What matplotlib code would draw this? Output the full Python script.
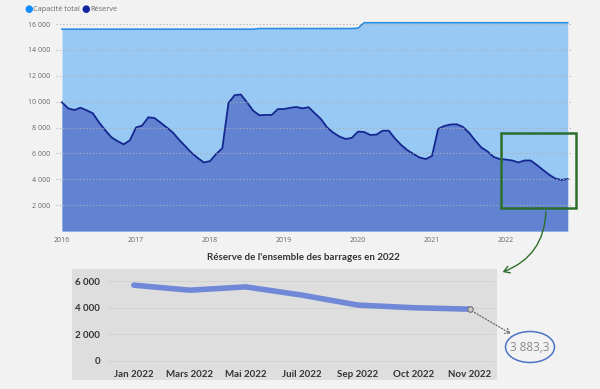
import matplotlib
matplotlib.use("Agg")
import matplotlib.pyplot as plt
from matplotlib.patches import Rectangle, Ellipse, FancyArrowPatch

W, H = 600, 389

# monthly reserve, Jan 2016 .. Nov 2022
reserve = [9950, 9480, 9350, 9530, 9330, 9100, 8400, 7800, 7250, 6950, 6700, 7000,
           8000, 8150, 8790, 8730, 8370, 8000, 7600, 7050, 6550, 6050, 5650, 5300,
           5400, 5950, 6400, 9900, 10500, 10550, 9950, 9300, 8950, 8970, 8970, 9420,
           9430, 9520, 9590, 9480, 9570, 9100, 8650, 8000, 7600, 7300, 7110, 7200,
           7680, 7650, 7420, 7450, 7750, 7750, 7150, 6650, 6250, 5950, 5680, 5560,
           5800, 7900, 8120, 8230, 8250, 8050, 7600, 7000, 6450, 6150, 5720, 5560,
           5520, 5450, 5300, 5450, 5450, 5100, 4720, 4350, 4050, 3950, 4020]
months = list(range(len(reserve)))

cap_months = [0, 31, 32, 47, 48, 49, 82]
cap_values = [15600, 15600, 15650, 15650, 15680, 16100, 16100]

year_labels = ["2016", "2017", "2018", "2019", "2020", "2021", "2022"]
year_ticks = [0, 12, 24, 36, 48, 60, 72]
top_yticks = [2000, 4000, 6000, 8000, 10000, 12000, 14000, 16000]

# zoom on 2022
months_2022 = ["Jan 2022", "Mars 2022", "Mai 2022", "Juil 2022", "Sep 2022", "Oct 2022", "Nov 2022"]
reserve_2022 = [5690, 5310, 5560, 4940, 4190, 3990, 3883.3]
bottom_yticks = [0, 2000, 4000, 6000]
last_label = "3 883,3"

bg = "#f2f2f2"
c_cap_line = "#2a8de6"
c_cap_fill = "#98c8f4"
c_res_line = "#14268f"
c_res_fill = "#6183d2"
green = "#2d6e2d"


def fx(px):
    return px / W


def fy(py):
    return 1 - py / H


fig = plt.figure(figsize=(6, 3.89), dpi=100, facecolor=bg)
plt.rcParams['font.family'] = ['Open Sans', 'DejaVu Sans']

# ---------- top chart ----------
ymax = 16300
top_px = 231 - ymax / 77.3
ax = fig.add_axes([fx(56), fy(231), fx(573) - fx(56), fy(top_px) - fy(231)])
ax.set_facecolor(bg)
ax.fill_between(cap_months, cap_values, color=c_cap_fill, lw=0, zorder=1)
ax.plot(cap_months, cap_values, color=c_cap_line, lw=1.2, zorder=2)
ax.fill_between(months, reserve, color=c_res_fill, lw=0, zorder=3)
ax.plot(months, reserve, color=c_res_line, lw=1.3, zorder=4, solid_joinstyle="round")
for v in top_yticks:
    ax.axhline(v, color="#b0b0b0", lw=0.8, ls=(0, (1, 2)), zorder=5)
ax.set_xlim(-0.97, 82.86)
ax.set_ylim(0, ymax)
ax.set_xticks(year_ticks)
ax.set_xticklabels(year_labels)
ax.set_yticks(top_yticks)
ax.set_yticklabels([f"{v:,}".replace(",", " ") for v in top_yticks])
ax.tick_params(length=0, labelsize=5, colors="#666666", pad=4)
for s in ax.spines.values():
    s.set_visible(False)

# legend
fig.text(fx(29), fy(9.5), "●", color="#118dff", fontsize=7, va="center", ha="center")
fig.text(fx(33), fy(9.5), "Capacité total", color="#666666", fontsize=5.2, va="center")
fig.text(fx(86), fy(9.5), "●", color="#12239e", fontsize=7, va="center", ha="center")
fig.text(fx(90), fy(9.5), "Réserve", color="#666666", fontsize=5.2, va="center")

# green frame + arrow
fig.patches.append(Rectangle((fx(501), fy(208)), fx(576) - fx(501), fy(133) - fy(208),
                             transform=fig.transFigure, fill=False, ec=green, lw=1.8, zorder=3))
fig.patches.append(FancyArrowPatch((fx(546), fy(209)), (fx(500), fy(273)),
                                   transform=fig.transFigure, connectionstyle="arc3,rad=-0.35",
                                   arrowstyle="->,head_length=4,head_width=2.5",
                                   color=green, lw=1, zorder=3))

# ---------- bottom chart ----------
fig.patches.append(Rectangle((fx(72), fy(380)), fx(497) - fx(72), fy(269) - fy(380),
                             transform=fig.transFigure, fc="#dedede", ec="none", zorder=-1))
fig.text(fx(303), fy(258), "Réserve de l'ensemble des barrages en 2022", ha="center", va="center",
         fontsize=7, fontweight="bold", color="#333333", family=["Lato", "DejaVu Sans"])

bx = fig.add_axes([fx(107), fy(363.4), fx(495) - fx(107), fy(272) - fy(363.4)])
bx.set_zorder(2)
bx.patch.set_alpha(0)
xpos = list(range(len(months_2022)))
for v in bottom_yticks:
    bx.axhline(v, color="#d0d0d0", lw=0.6, zorder=1)
bx.plot(xpos, reserve_2022, color="#7088d8", lw=4, solid_capstyle="round",
        solid_joinstyle="round", zorder=3)
bx.plot(xpos[-1], reserve_2022[-1], "o", ms=4, mfc="#c8c8c8", mec="#707070", mew=0.8, zorder=4)
bx.set_xlim(-0.48, 6.45)
bx.set_ylim(-200, 6680)
bx.set_xticks(xpos)
bx.set_xticklabels(months_2022)
bx.set_yticks(bottom_yticks)
bx.set_yticklabels([f"{v:,}".replace(",", " ") for v in bottom_yticks])
bx.tick_params(length=0, labelsize=7, colors="#333333", pad=5)
for lab in bx.get_xticklabels() + bx.get_yticklabels():
    lab.set_fontweight("bold")
    lab.set_family(["Lato", "DejaVu Sans"])
for s in bx.spines.values():
    s.set_visible(False)

# callout for last value
fig.patches.append(FancyArrowPatch((fx(472), fy(311)), (fx(513), fy(335)),
                                   transform=fig.transFigure,
                                   arrowstyle="->,head_length=3,head_width=2",
                                   color="#666666", lw=0.9, ls=(0, (1, 1.5)), zorder=3))
fig.patches.append(Ellipse((fx(530), fy(347)), fx(49), 31 / H, transform=fig.transFigure,
                           fill=False, ec="#4d73c6", lw=1.1, zorder=3))
fig.text(fx(530), fy(347.5), last_label, ha="center", va="center", fontsize=8.5, color="#8a8a8a")

fig.savefig("out.png", dpi=100, facecolor=bg)
